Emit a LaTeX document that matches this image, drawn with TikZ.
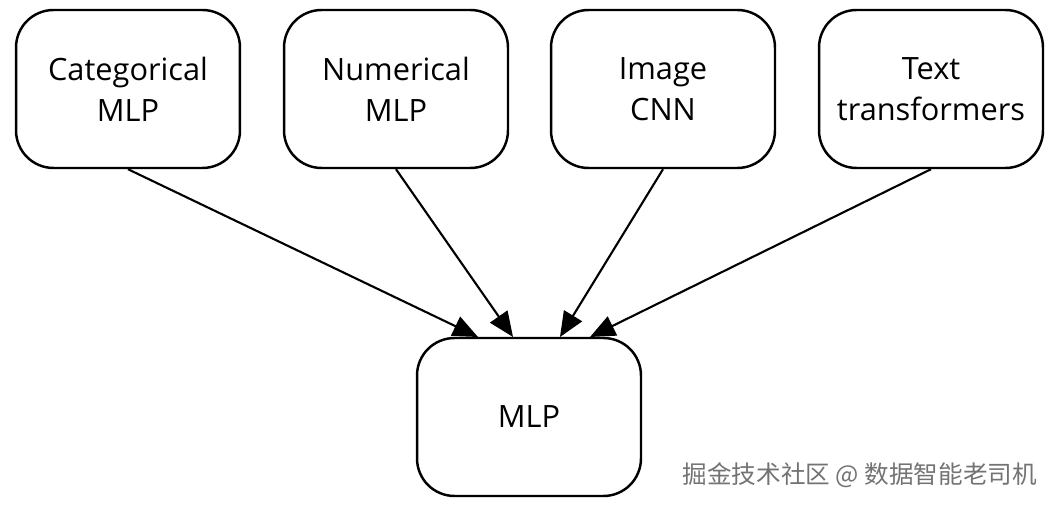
\documentclass[tikz,border=0pt]{standalone}
\usepackage{fontspec}
\setmainfont{Open Sans}
\newfontfamily\cjk{Noto Sans CJK SC}
\usetikzlibrary{positioning,arrows.meta}

\begin{document}
\begin{tikzpicture}[x=0.02cm,y=-0.02cm,
  box/.style={draw,line width=1.4pt,rounded corners=0.75cm,minimum width=4.48cm,
    minimum height=3.16cm,align=center,font=\fontsize{17.5}{23.5}\selectfont,inner sep=0pt},
  feed/.style={line width=1.2pt,-{Triangle[length=0.5cm,width=0.42cm]}}]
\useasboundingbox (0,0) rectangle (1059,506);

\node[box] (cat) at (128,89) {Categorical\\MLP};
\node[box] (num) at (396,89) {Numerical\\MLP};
\node[box] (img) at (663,89) {Image\\CNN};
\node[box] (txt) at (931,89) {Text\\transformers};
\node[box] (mlp) at (529,417) {MLP};

\coordinate (ina) at (478,337);
\coordinate (inb) at (513,337);
\coordinate (inc) at (560,337);
\coordinate (ind) at (590,337);

\draw[feed] (cat.south) -- (ina);
\draw[feed] (num.south) -- (inb);
\draw[feed] (img.south) -- (inc);
\draw[feed] (txt.south) -- (ind);

\node[anchor=east,text=black!55,font=\cjk\fontsize{14}{16}\selectfont] (mark) at (1043,475) {掘金技术社区 @ 数据智能老司机};
\end{tikzpicture}
\end{document}
